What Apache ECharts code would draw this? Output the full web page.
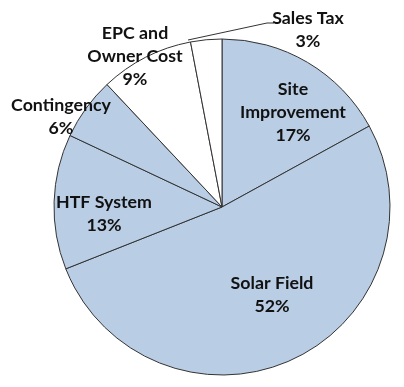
<!DOCTYPE html>
<html>
<head>
<meta charset="utf-8">
<script src="https://cdn.jsdelivr.net/npm/echarts@6/dist/echarts.min.js"></script>
<style>
html,body{margin:0;padding:0;background:#fff;}
#chart{width:404px;height:387px;}
</style>
</head>
<body>
<div id="chart"></div>
<script>
// Data
const categories = ['Site\nImprovement', 'Solar Field', 'HTF System', 'Contingency', 'EPC and\nOwner Cost', 'Sales Tax'];
const shares = [17, 52, 13, 6, 9, 3];
const sliceColors = ['#B9CDE5', '#B9CDE5', '#B9CDE5', '#B9CDE5', '#FFFFFF', '#FFFFFF'];

// Label placement (centre of each text block, in pixels)
const labelCentres = [[293, 112], [272, 295], [104, 214], [61, 117], [135, 56], [308, 30]];
const salesTaxLeader = [[188, 40], [267, 23], [274, 23]];

const chart = echarts.init(document.getElementById('chart'), null, {renderer: 'canvas'});

const data = categories.map((c, i) => ({
  name: c,
  value: shares[i],
  itemStyle: {color: sliceColors[i]},
  label: i === 5 ? {position: 'outside'} : {position: 'inside'},
  labelLine: {show: i === 5}
}));

chart.setOption({
  animation: false,
  backgroundColor: '#ffffff',
  series: [{
    type: 'pie',
    center: [222, 207],
    radius: 168,
    startAngle: 90,
    clockwise: true,
    avoidLabelOverlap: false,
    silent: true,
    data: data,
    itemStyle: {borderColor: '#333333', borderWidth: 1},
    label: {
      show: true,
      formatter: p => p.name + '\n' + p.value + '%',
      fontFamily: 'Lato',
      fontWeight: 'bold',
      fontSize: 17.8,
      lineHeight: 23,
      color: '#111111',
      align: 'center'
    },
    labelLine: {lineStyle: {color: '#333333', width: 1}, length: 10, length2: 10},
    labelLayout: function (params) {
      const c = labelCentres[params.dataIndex];
      const o = {x: c[0], y: c[1], align: 'center', verticalAlign: 'middle'};
      if (params.dataIndex === 5) o.labelLinePoints = salesTaxLeader;
      return o;
    }
  }]
});
</script>
</body>
</html>
